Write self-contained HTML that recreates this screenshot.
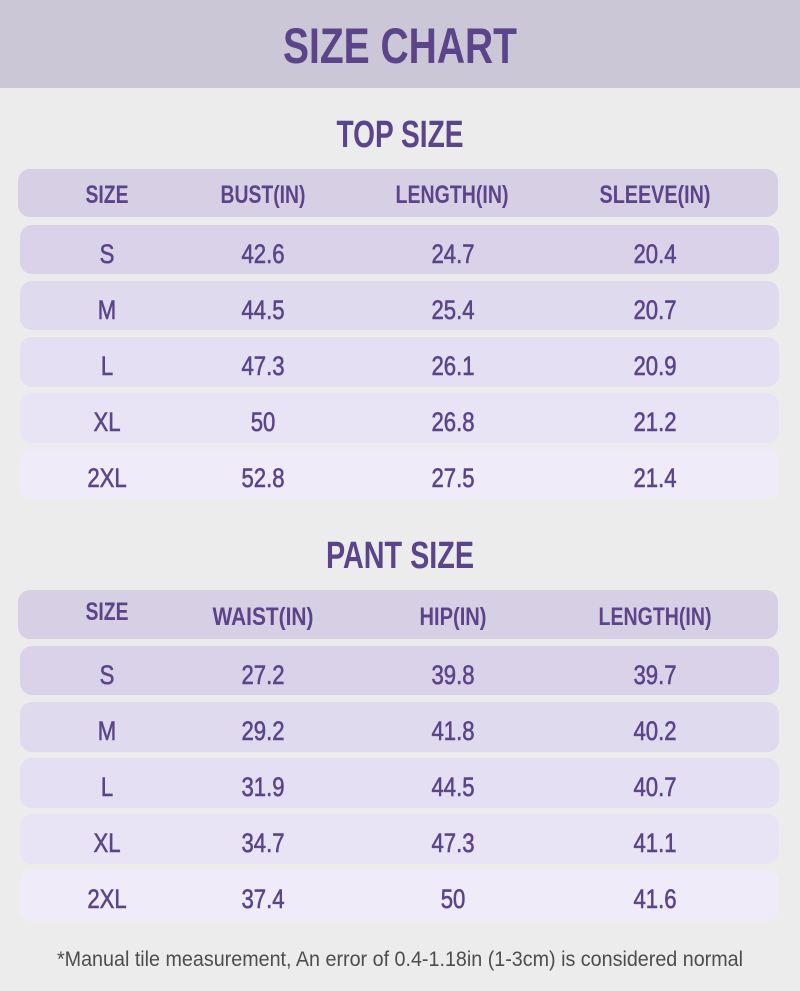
<!DOCTYPE html>
<html>
<head>
<meta charset="utf-8">
<style>
html,body{margin:0;padding:0;background:#ececec;}
svg{display:block;}
.h{font-family:"Liberation Sans",sans-serif;font-weight:bold;fill:#5b4489;}
.d{font-family:"Liberation Sans",sans-serif;font-weight:normal;fill:#5b4489;font-size:27px;stroke:#5b4489;stroke-width:0.6px;}
.f{font-family:"Liberation Sans",sans-serif;fill:#4d4d4d;font-size:21px;}
</style>
</head>
<body>
<svg width="800" height="991" viewBox="0 0 800 991" xmlns="http://www.w3.org/2000/svg">
<rect x="0" y="0" width="800" height="991" fill="#ececec"/>
<rect x="0" y="0" width="800" height="88" fill="#cbc7d7"/>
<text class="h" x="400" y="63" font-size="50" text-anchor="middle" textLength="234" lengthAdjust="spacingAndGlyphs">SIZE CHART</text>

<!-- TOP SIZE -->
<text class="h" x="400" y="147" font-size="38" text-anchor="middle" textLength="127" lengthAdjust="spacingAndGlyphs">TOP SIZE</text>
<rect x="18" y="169" width="760" height="48" rx="12" fill="#d7d0e5"/>
<rect x="20" y="225" width="759" height="49" rx="12" fill="#dad2e9"/>
<rect x="20" y="281" width="759" height="49" rx="12" fill="#e0daef"/>
<rect x="20" y="337" width="759" height="50" rx="12" fill="#e4dff2"/>
<rect x="20" y="393" width="759" height="50" rx="12" fill="#e8e4f5"/>
<rect x="20" y="449" width="759" height="50" rx="12" fill="#efebf9"/>

<text class="h" x="107" y="203" font-size="25" text-anchor="middle" textLength="43" lengthAdjust="spacingAndGlyphs">SIZE</text>
<text class="h" x="263" y="203" font-size="25" text-anchor="middle" textLength="85" lengthAdjust="spacingAndGlyphs">BUST(IN)</text>
<text class="h" x="452" y="203" font-size="25" text-anchor="middle" textLength="113" lengthAdjust="spacingAndGlyphs">LENGTH(IN)</text>
<text class="h" x="655" y="203" font-size="25" text-anchor="middle" textLength="111" lengthAdjust="spacingAndGlyphs">SLEEVE(IN)</text>

<g class="d" text-anchor="middle">
<text transform="translate(107,263) scale(0.82,1)">S</text>
<text transform="translate(263,263) scale(0.82,1)">42.6</text>
<text transform="translate(453,263) scale(0.82,1)">24.7</text>
<text transform="translate(655,263) scale(0.82,1)">20.4</text>

<text transform="translate(107,319) scale(0.82,1)">M</text>
<text transform="translate(263,319) scale(0.82,1)">44.5</text>
<text transform="translate(453,319) scale(0.82,1)">25.4</text>
<text transform="translate(655,319) scale(0.82,1)">20.7</text>

<text transform="translate(107,375) scale(0.82,1)">L</text>
<text transform="translate(263,375) scale(0.82,1)">47.3</text>
<text transform="translate(453,375) scale(0.82,1)">26.1</text>
<text transform="translate(655,375) scale(0.82,1)">20.9</text>

<text transform="translate(107,431) scale(0.82,1)">XL</text>
<text transform="translate(263,431) scale(0.82,1)">50</text>
<text transform="translate(453,431) scale(0.82,1)">26.8</text>
<text transform="translate(655,431) scale(0.82,1)">21.2</text>

<text transform="translate(107,487) scale(0.82,1)">2XL</text>
<text transform="translate(263,487) scale(0.82,1)">52.8</text>
<text transform="translate(453,487) scale(0.82,1)">27.5</text>
<text transform="translate(655,487) scale(0.82,1)">21.4</text>
</g>

<!-- PANT SIZE -->
<text class="h" x="400" y="568" font-size="38" text-anchor="middle" textLength="148" lengthAdjust="spacingAndGlyphs">PANT SIZE</text>
<rect x="18" y="590" width="760" height="49" rx="12" fill="#d7d0e5"/>
<rect x="20" y="646" width="759" height="49" rx="12" fill="#dad2e9"/>
<rect x="20" y="702" width="759" height="50" rx="12" fill="#e0daef"/>
<rect x="20" y="758" width="759" height="50" rx="12" fill="#e4dff2"/>
<rect x="20" y="814" width="759" height="50" rx="12" fill="#e8e4f5"/>
<rect x="20" y="870" width="759" height="51" rx="12" fill="#efebf9"/>

<text class="h" x="107" y="620" font-size="25" text-anchor="middle" textLength="43" lengthAdjust="spacingAndGlyphs">SIZE</text>
<text class="h" x="263" y="625" font-size="25" text-anchor="middle" textLength="101" lengthAdjust="spacingAndGlyphs">WAIST(IN)</text>
<text class="h" x="453" y="625" font-size="25" text-anchor="middle" textLength="67" lengthAdjust="spacingAndGlyphs">HIP(IN)</text>
<text class="h" x="655" y="625" font-size="25" text-anchor="middle" textLength="113" lengthAdjust="spacingAndGlyphs">LENGTH(IN)</text>

<g class="d" text-anchor="middle">
<text transform="translate(107,684) scale(0.82,1)">S</text>
<text transform="translate(263,684) scale(0.82,1)">27.2</text>
<text transform="translate(453,684) scale(0.82,1)">39.8</text>
<text transform="translate(655,684) scale(0.82,1)">39.7</text>

<text transform="translate(107,740) scale(0.82,1)">M</text>
<text transform="translate(263,740) scale(0.82,1)">29.2</text>
<text transform="translate(453,740) scale(0.82,1)">41.8</text>
<text transform="translate(655,740) scale(0.82,1)">40.2</text>

<text transform="translate(107,796) scale(0.82,1)">L</text>
<text transform="translate(263,796) scale(0.82,1)">31.9</text>
<text transform="translate(453,796) scale(0.82,1)">44.5</text>
<text transform="translate(655,796) scale(0.82,1)">40.7</text>

<text transform="translate(107,852) scale(0.82,1)">XL</text>
<text transform="translate(263,852) scale(0.82,1)">34.7</text>
<text transform="translate(453,852) scale(0.82,1)">47.3</text>
<text transform="translate(655,852) scale(0.82,1)">41.1</text>

<text transform="translate(107,908) scale(0.82,1)">2XL</text>
<text transform="translate(263,908) scale(0.82,1)">37.4</text>
<text transform="translate(453,908) scale(0.82,1)">50</text>
<text transform="translate(655,908) scale(0.82,1)">41.6</text>
</g>

<text class="f" x="400" y="966" text-anchor="middle" textLength="686" lengthAdjust="spacingAndGlyphs">*Manual tile measurement, An error of 0.4-1.18in (1-3cm) is considered normal</text>
</svg>
</body>
</html>
